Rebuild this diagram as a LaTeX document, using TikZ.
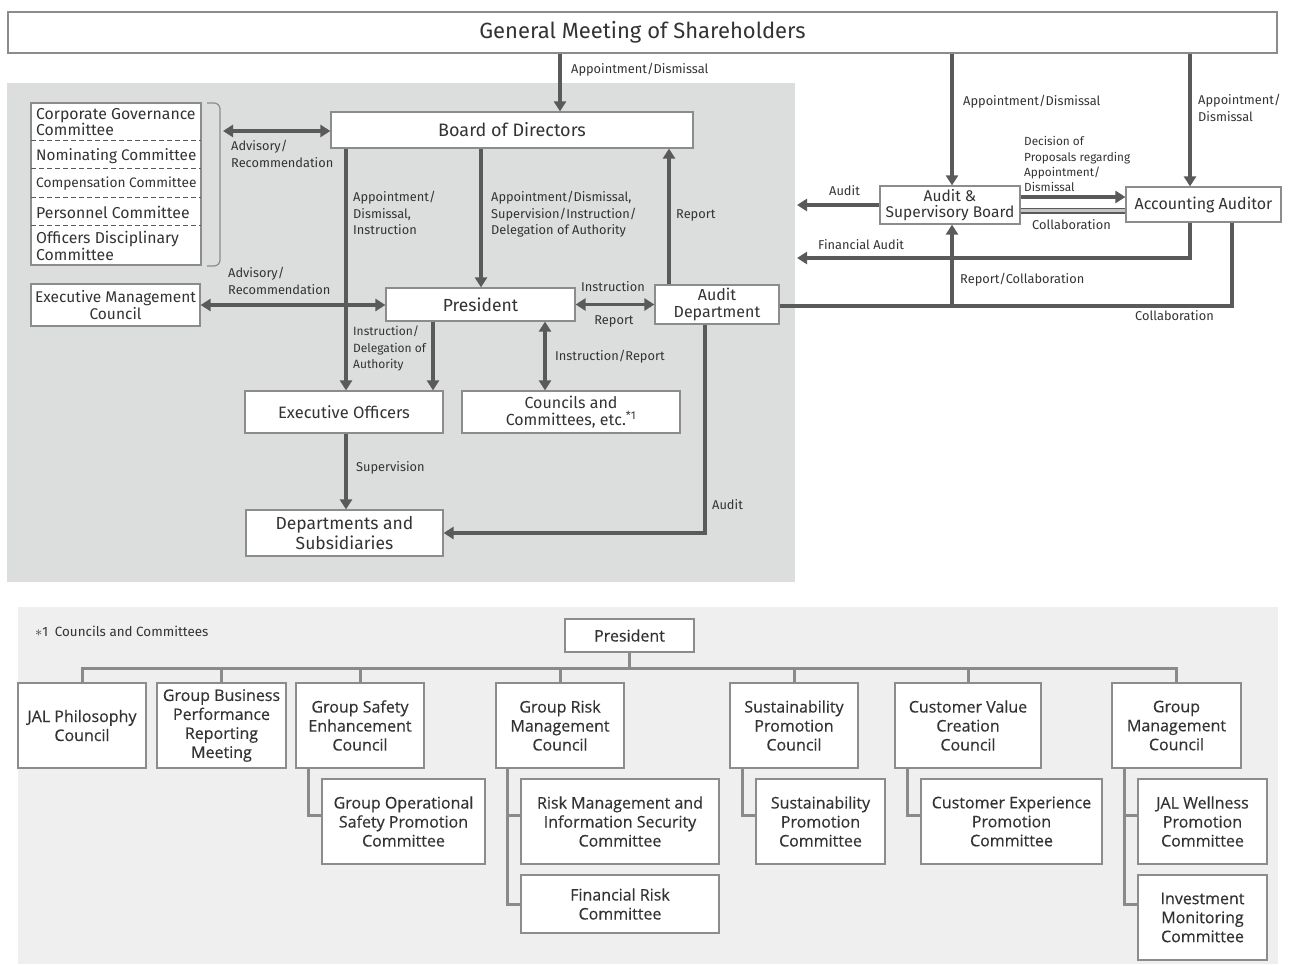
\documentclass[tikz,border=0pt]{standalone}
\usepackage{fontspec}
\setmainfont{Fira Sans}
\newfontfamily\lowfont[FakeBold=0.4]{Open Sans}
\newfontfamily\condfont{Fira Sans}
\usetikzlibrary{arrows.meta}
\definecolor{arrgray}{HTML}{5A5A5A}
\definecolor{boxline}{HTML}{8C8C8C}
\definecolor{treeline}{HTML}{8A8A8A}
\definecolor{txtgray}{HTML}{333333}
\definecolor{upbg}{HTML}{DCDDDD}
\definecolor{lowbg}{HTML}{EFEFEF}

\begin{document}
\begin{tikzpicture}[x=1pt,y=-1pt,
  govbox/.style={draw=boxline,fill=white,line width=1.2pt,text=txtgray,align=center,inner sep=0pt,
    font=\fontsize{16}{17}\selectfont},
  combox/.style={draw=boxline,fill=white,line width=1.5pt,text=txtgray,align=center,inner sep=0pt,
    minimum height=85pt,font=\lowfont\fontsize{16}{19}\selectfont},
  lbl/.style={text=txtgray,align=left,inner sep=0pt,font=\condfont\fontsize{12.8}{16.5}\selectfont},
  cmt/.style={text=txtgray,align=left,inner sep=0pt,anchor=west,font=\fontsize{15.8}{15}\selectfont},
  arr/.style={draw=arrgray,line width=3.5pt,-{Triangle[length=10pt,width=12pt]}},
  darr/.style={draw=arrgray,line width=3.5pt,{Triangle[length=10pt,width=12pt]}-{Triangle[length=10pt,width=12pt]}},
  link/.style={draw=arrgray,line width=3.5pt},
  tline/.style={draw=treeline,line width=3pt}]

  \useasboundingbox (0,0) rectangle (1293,965);

  % panels
  \fill[upbg] (7,83) rectangle (795,582);
  \fill[lowbg] (18,607) rectangle (1278,964);

  \node[govbox,minimum width=1269pt,minimum height=41pt,font=\fontsize{22}{23}\selectfont] (gms) at (642.5,32.5) {General Meeting of Shareholders};

  % committees under the board
  \node[draw=boxline,fill=white,line width=1.2pt,minimum width=170pt,minimum height=162pt] (comm) at (116,184) {};
  \foreach \y in {141,169,198,226}
    \draw[arrgray,line width=1pt,dash pattern=on 5pt off 3pt] (31,\y) -- (201,\y);
  \node[cmt] (cgc) at (36,122) {Corporate Governance\\Committee};
  \node[cmt,font=\fontsize{15.3}{15}\selectfont] (nom) at (36,156) {Nominating Committee};
  \node[cmt,font=\fontsize{13.7}{14}\selectfont] (comp) at (36,184) {Compensation Committee};
  \node[cmt] (pers) at (36,212) {Personnel Committee};
  \node[cmt] (odc) at (36,246) {Officers Disciplinary\\Committee};
  \draw[boxline,line width=1.2pt,rounded corners=6pt] (207,103) -- (220,103) -- (220,266) -- (207,266);
  \coordinate (brk) at (223,131);

  \node[govbox,minimum width=362pt,minimum height=36pt,font=\fontsize{18}{19}\selectfont] (bod) at (512,130) {Board of Directors};
  \node[govbox,minimum width=169pt,minimum height=42pt,font=\fontsize{15.5}{16.5}\selectfont] (emc) at (115.5,305) {Executive Management\\Council};
  \node[govbox,minimum width=189pt,minimum height=33pt,font=\fontsize{17.5}{18}\selectfont] (pres) at (480.5,304.5) {President};
  \node[govbox,minimum width=124pt,minimum height=39pt] (aud) at (717,304.5) {Audit\\Department};
  \node[govbox,minimum width=198pt,minimum height=42pt,font=\fontsize{16.5}{17}\selectfont] (eo) at (344,412) {Executive Officers};
  \node[govbox,minimum width=218pt,minimum height=42pt] (cc) at (571,412) {Councils and\\Committees, etc.\textsuperscript{*1}};
  \node[govbox,minimum width=197pt,minimum height=46pt,font=\fontsize{17.5}{19.5}\selectfont] (dep) at (344.5,533) {Departments and\\Subsidiaries};
  \node[govbox,minimum width=140pt,minimum height=38pt,font=\fontsize{15.5}{16.5}\selectfont] (asb) at (950,205) {Audit \&\\Supervisory Board};
  \node[govbox,minimum width=155pt,minimum height=35pt] (aa) at (1203.5,204.5) {Accounting Auditor};

  % connectors of the governance part
  \draw[arr] (gms.south -| 560,0) -- (bod.north -| 560,0);
  \node[lbl,anchor=west] (l1) at (571,70) {Appointment/Dismissal};
  \draw[darr] (brk) -- (bod.west |- brk);
  \node[lbl,anchor=north west] (l2) at (231,140) {Advisory/\\Recommendation};
  \draw[darr] (emc.east) -- (pres.west |- emc.east);
  \node[lbl,anchor=north west] (l3) at (228,267) {Advisory/\\Recommendation};
  \draw[arr] (bod.south -| 346,0) -- (eo.north -| 346,0);
  \node[lbl,anchor=north west] (l4) at (353,191) {Appointment/\\Dismissal,\\Instruction};
  \draw[arr] (bod.south -| 481,0) -- (pres.north -| 481,0);
  \node[lbl,anchor=north west] (l5) at (491,191) {Appointment/Dismissal,\\Supervision/Instruction/\\Delegation of Authority};
  \draw[arr] (aud.north -| 669,0) -- (bod.south -| 669,0);
  \node[lbl,anchor=west] (l6) at (676,215) {Report};
  \draw[darr] (pres.east) -- (aud.west |- pres.east);
  \node[lbl] (l7) at (613,287) {Instruction};
  \node[lbl] (l8) at (614,321) {Report};
  \draw[arr] (pres.south -| 433,0) -- (eo.north -| 433,0);
  \node[lbl,anchor=north west,font=\condfont\fontsize{12}{16.5}\selectfont] (l9) at (353,326) {Instruction/\\Delegation of\\Authority};
  \draw[darr] (pres.south -| 545,0) -- (cc.north -| 545,0);
  \node[lbl,anchor=west] (l10) at (555,357) {Instruction/Report};
  \draw[arr] (eo.south -| 346,0) -- (dep.north -| 346,0);
  \node[lbl,anchor=west] (l11) at (356,468) {Supervision};
  \draw[arr] (aud.south -| 705,0) |- (dep.east);
  \node[lbl,anchor=west] (l12) at (712,505) {Audit};

  % connectors of the audit part
  \coordinate (auditend) at (797,205);
  \coordinate (faend) at (797,258);
  \coordinate (collab) at (1232,306);
  \draw[arr] (gms.south -| 952,0) -- (asb.north -| 952,0);
  \node[lbl,anchor=west] (l13) at (963,102) {Appointment/Dismissal};
  \draw[arr] (gms.south -| 1190,0) -- (aa.north -| 1190,0);
  \node[lbl,anchor=north west] (l14) at (1198,94) {Appointment/\\Dismissal};
  \draw[arr] (asb.east |- 0,197) -- (aa.west |- 0,197);
  \node[lbl,anchor=south west,font=\condfont\fontsize{11.8}{15.3}\selectfont] (l15) at (1024,192) {Decision of\\Proposals regarding\\Appointment/\\Dismissal};
  \draw[draw=arrgray,line width=1.5pt,double=treeline!50,double distance=3pt] (asb.east |- 0,211) -- (aa.west |- 0,211);
  \node[lbl,anchor=west] (l16) at (1032,225) {Collaboration};
  \draw[arr] (asb.west) -- (auditend);
  \node[lbl,anchor=west] (l17) at (829,191) {Audit};
  \draw[arr] (aa.south -| 1190,0) |- (faend);
  \node[lbl,anchor=west] (l18) at (818,245) {Financial Audit};
  \draw[link] (aud.east |- collab) -- (collab) -- (aa.south -| collab);
  \node[lbl,anchor=west] (l19) at (1135,316) {Collaboration};
  \draw[arr] (collab -| 952,0) -- (asb.south -| 952,0);
  \node[lbl,anchor=west] (l20) at (960,280) {Report/Collaboration};

  % councils and committees
  \node[text=txtgray,anchor=west,inner sep=0pt,font=\condfont\fontsize{13.4}{13}\selectfont] (note) at (35,631) {$\ast$1\enspace Councils and Committees};
  \node[combox,minimum width=129pt,minimum height=33pt] (pres2) at (629.5,635.5) {President};

  \node[combox,minimum width=128pt] (jal) at (82,725.5) {JAL Philosophy\\Council};
  \node[combox,minimum width=129pt] (gbp) at (221.5,725.5) {Group Business\\Performance\\Reporting\\Meeting};
  \node[combox,minimum width=128pt] (gse) at (360,725.5) {Group Safety\\Enhancement\\Council};
  \node[combox,minimum width=128pt] (grm) at (560,725.5) {Group Risk\\Management\\Council};
  \node[combox,minimum width=128pt] (spc) at (794,725.5) {Sustainability\\Promotion\\Council};
  \node[combox,minimum width=146pt] (cvc) at (968,725.5) {Customer Value\\Creation\\Council};
  \node[combox,minimum width=129pt] (gmc) at (1176.5,725.5) {Group\\Management\\Council};

  \node[combox,minimum width=163pt] (gos) at (403.5,821.5) {Group Operational\\Safety Promotion\\Committee};
  \node[combox,minimum width=198pt] (rmi) at (620,821.5) {Risk Management and\\Information Security\\Committee};
  \node[combox,minimum width=198pt,minimum height=58pt] (frc) at (620,904) {Financial Risk\\Committee};
  \node[combox,minimum width=129pt] (spcm) at (820.5,821.5) {Sustainability\\Promotion\\Committee};
  \node[combox,minimum width=181pt] (cep) at (1011.5,821.5) {Customer Experience\\Promotion\\Committee};
  \node[combox,minimum width=129pt] (jwp) at (1202.5,821.5) {JAL Wellness\\Promotion\\Committee};
  \node[combox,minimum width=129pt] (imc) at (1202.5,917.5) {Investment\\Monitoring\\Committee};

  \draw[tline] (pres2.south) -- (pres2.south |- 0,668);
  \draw[tline] (jal.north) |- (gmc.north |- 0,668) -- (gmc.north);
  \foreach \n in {gbp,gse,grm,spc,cvc}
    \draw[tline] (\n.north) -- (\n.north |- 0,668);
  \draw[tline] (gse.south -| 308,0) |- ([yshift=6.5pt]gos.west);
  \draw[tline] (grm.south -| 507,0) |- ([yshift=6.5pt]rmi.west);
  \draw[tline] (grm.south -| 507,0) |- (frc.west);
  \draw[tline] (spc.south -| 742,0) |- ([yshift=6.5pt]spcm.west);
  \draw[tline] (cvc.south -| 907,0) |- ([yshift=6.5pt]cep.west);
  \draw[tline] (gmc.south -| 1124,0) |- ([yshift=6.5pt]jwp.west);
  \draw[tline] (gmc.south -| 1124,0) |- ([yshift=13.5pt]imc.west);

\end{tikzpicture}
\end{document}
